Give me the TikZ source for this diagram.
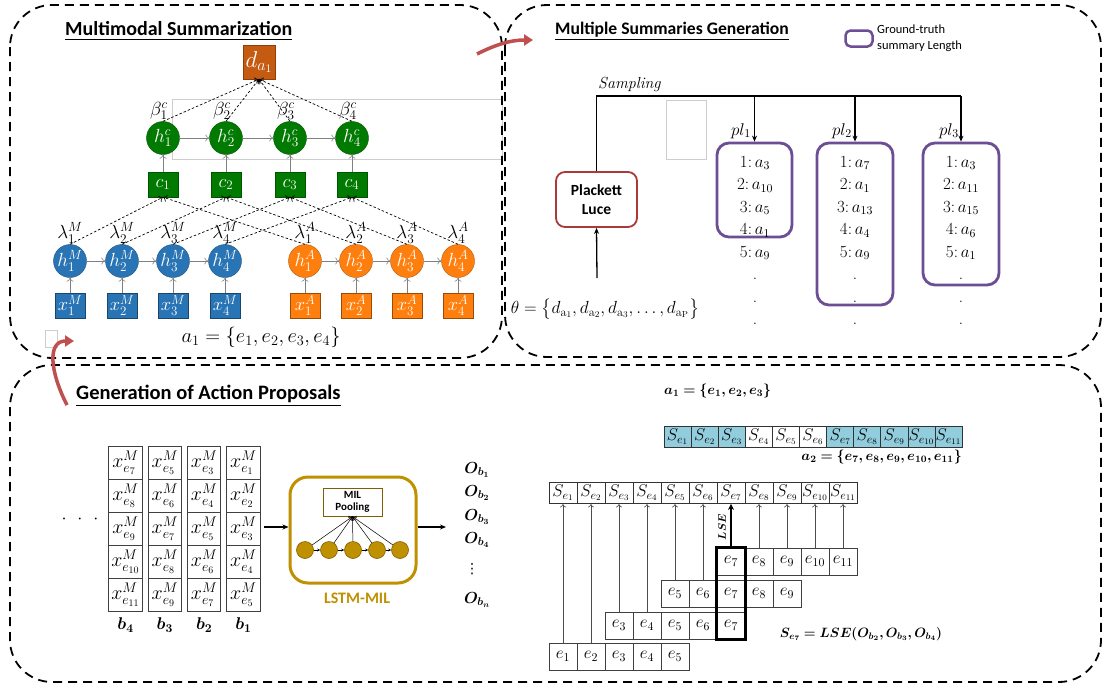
\RequirePackage{fix-cm}
\documentclass[tikz,border=0pt]{standalone}
\usepackage{amsmath}
\usepackage{bm}
\usepackage{fontspec}
\newfontfamily\carl{Carlito}
\newfontfamily\dejavu{DejaVu Sans}
\usetikzlibrary{arrows.meta,calc}
\definecolor{cblue}{RGB}{40,116,180}
\definecolor{corange}{RGB}{255,127,14}
\definecolor{cgreen}{RGB}{0,122,0}
\definecolor{cdorange}{RGB}{197,90,17}
\definecolor{cpurple}{RGB}{108,78,148}
\definecolor{cred}{RGB}{170,58,58}
\definecolor{cgold}{RGB}{191,144,0}
\definecolor{cdgold}{RGB}{127,96,0}
\definecolor{clblue}{RGB}{146,205,221}
\definecolor{carrow}{RGB}{192,80,77}
\definecolor{cstray}{RGB}{205,205,205}
\newcommand{\fsz}[2]{\fontsize{#1}{#2}\selectfont}
\begin{document}
\begin{tikzpicture}[x=1pt,y=-1pt,
  panel/.style={draw=black, line width=1.8pt, dash pattern=on 9pt off 6pt, rounded corners=42pt},
  title/.style={anchor=west, inner sep=0pt, font=\carl\bfseries\fsz{20}{24}},
  stray/.style={draw=cstray, line width=0.6pt},
  hnode/.style={circle, minimum size=33pt, inner sep=0pt, text=white, font=\fsz{19}{22}},
  sqnode/.style={rectangle, minimum width=30pt, minimum height=25pt, inner sep=0pt, text=white, font=\fsz{18.5}{22}},
  garr/.style={draw=gray, line width=0.6pt, -{To[length=4pt,width=7pt]}},
  darr/.style={draw=black, line width=0.7pt, dash pattern=on 2.5pt off 2pt, -{To[length=4pt,width=7pt]}},
  lab/.style={inner sep=0pt, font=\fsz{19}{22}},
  plbox/.style={draw=cpurple, line width=2.8pt, rounded corners=12pt, inner sep=0pt},
  listn/.style={anchor=north, align=center, inner sep=0pt, font=\fsz{17}{22.5}},
  blk/.style={line width=1.3pt, -{Stealth[length=6pt,width=5pt]}},
  xcell/.style={draw=black!75, line width=0.8pt, minimum width=33.5pt, minimum height=33pt, inner sep=0pt, font=\fsz{20}{24}},
  scell/.style={draw=black!80, line width=0.8pt, minimum height=21pt, inner sep=0pt, font=\fsz{17}{19}},
  ecell/.style={draw=black!75, line width=0.8pt, minimum width=28pt, minimum height=27pt, inner sep=0pt, font=\fsz{17}{20}},
  earr/.style={draw=black!70, line width=0.6pt, -{To[length=3.5pt,width=6pt]}},
  redarr/.style={draw=carrow, line width=3.5pt, -{Triangle[length=9pt,width=11pt]}}
]
\useasboundingbox (0,0) rectangle (1105,688);
\fill[white] (0,0) rectangle (1105,688);

% ---------------- stray boxes ----------------
\draw[stray] (172,99) rectangle (502,159);
\draw[stray] (666,100) rectangle (706,159);
\draw[stray] (45,330) rectangle (57,347);

% ---------------- panels ----------------
\draw[panel] (10,5) rectangle (502,358);
\draw[panel] (505,5) rectangle (1101,357);
\draw[panel] (10,365) rectangle (1101,682);

% ================= Panel 1 =================
\node[title] (t1) at (65,31) {\underline{Multimodal Summarization}};
\node[sqnode, fill=cdorange, draw=cdorange!70!black, minimum width=32pt, minimum height=34pt, font=\fsz{23}{26}] (d) at (259,62) {$d_{a_1}$};

\foreach \i/\x in {1/163,2/226,3/290,4/352} {
  \node[hnode, fill=cgreen, draw=cgreen!70!black] (hc\i) at (\x,138) {$h_{\i}^{c}$};
  \node[sqnode, fill=cgreen, draw=cgreen!70!black] (c\i) at (\x,184.5) {$c_{\i}$};
  \node[lab] (beta\i) at (\x-4,111) {$\beta_{\i}^{c}$};
  \draw[garr] (c\i) -- (hc\i);
  \draw[darr] (hc\i.north) -- (d.south);
}
\foreach \i/\j in {1/2,2/3,3/4} \draw[garr] (hc\i) -- (hc\j);

\foreach \i/\x in {1/70,2/122,3/173,4/225} {
  \node[hnode, fill=cblue, draw=cblue!70!black] (hm\i) at (\x,261) {$h_{\i}^{M}$};
  \node[sqnode, fill=cblue, draw=cblue!60!black] (xm\i) at (\x,305.5) {$x_{\i}^{M}$};
  \node[lab] (lm\i) at (\x,233) {$\lambda_{\i}^{M}$};
  \draw[garr] (xm\i) -- (hm\i);
  \draw[darr] (hm\i.north) -- (c\i.south);
}
\foreach \i/\x in {1/305,2/356,3/407,4/458} {
  \node[hnode, fill=corange, draw=corange!70!black] (ha\i) at (\x,261) {$h_{\i}^{A}$};
  \node[sqnode, fill=corange, draw=corange!60!black] (xa\i) at (\x,305.5) {$x_{\i}^{A}$};
  \node[lab] (la\i) at (\x,233) {$\lambda_{\i}^{A}$};
  \draw[garr] (xa\i) -- (ha\i);
  \draw[darr] (ha\i.north) -- (c\i.south);
}
\foreach \i/\j in {1/2,2/3,3/4} {
  \draw[garr] (hm\i) -- (hm\j);
  \draw[garr] (ha\i) -- (ha\j);
}
\node[lab, font=\fsz{20.5}{24}] (aone) at (261,337) {$a_1 = \{e_1, e_2, e_3, e_4\}$};

% ================= Panel 2 =================
\node[title, font=\carl\bfseries\fsz{17.6}{21}] (t2) at (555,31) {\underline{Multiple Summaries Generation}};
\node[draw=cpurple, line width=2.5pt, rounded corners=5pt, minimum width=27pt, minimum height=16pt, inner sep=0pt] (leg) at (859,38.5) {};
\node[anchor=west, align=left, font=\carl\fsz{12.5}{16.5}, inner sep=0pt] (legt) at (877,38) {Ground-truth\\summary Length};

\node[anchor=south west, inner sep=0pt, font=\fsz{16}{19}] (samp) at (598,92) {\textit{Sampling}};
\node[draw=cred, line width=1.8pt, rounded corners=9pt, minimum width=81pt, minimum height=55pt, align=center, font=\carl\bfseries\fsz{15.5}{19.5}] (pl) at (596.5,199.5) {Plackett\\Luce};

\node[plbox, minimum width=75pt, minimum height=94pt] (p1) at (754.5,190) {};
\node[plbox, minimum width=76pt, minimum height=162pt] (p2) at (855,224) {};
\node[plbox, minimum width=76pt, minimum height=142pt] (p3) at (961,214) {};

\coordinate (sline) at (597,96);
\draw[line width=1.3pt] (pl.north) -- (pl.north |- sline) -- (p3.north |- sline);
\foreach \k in {1,2,3} \draw[blk] (p\k.north |- sline) -- (p\k.north);

\node[lab, font=\fsz{17}{20}] (pll1) at (741,131) {$pl_1$};
\node[lab, font=\fsz{17}{20}] (pll2) at (842,131) {$pl_2$};
\node[lab, font=\fsz{17}{20}] (pll3) at (949,131) {$pl_3$};

\node[listn] (list1) at (755,156) {$1{:}\,a_3$\\$2{:}\,a_{10}$\\$3{:}\,a_5$\\$4{:}\,a_1$\\$5{:}\,a_9$\\.\\.\\.};
\node[listn] (list2) at (855,156) {$1{:}\,a_7$\\$2{:}\,a_1$\\$3{:}\,a_{13}$\\$4{:}\,a_4$\\$5{:}\,a_9$\\.\\.\\.};
\node[listn] (list3) at (961,156) {$1{:}\,a_3$\\$2{:}\,a_{11}$\\$3{:}\,a_{15}$\\$4{:}\,a_6$\\$5{:}\,a_1$\\.\\.\\.};

\node[lab, font=\fsz{17.5}{20}] (theta) at (605,309) {$\theta = \bigl\{d_{\mathrm{a}_1}, d_{\mathrm{a}_2}, d_{\mathrm{a}_3}, \dots, d_{\mathrm{a}_\mathrm{P}}\bigr\}$};
\coordinate (thtop) at (597,278);
\draw[blk] (thtop) -- (pl.south);

% ================= Panel 3 =================
\node[title, font=\carl\bfseries\fsz{20.5}{24}] (t3) at (76,396) {\underline{Generation of Action Proposals}};

\foreach \k in {0,...,3} {
  \foreach \r in {0,...,4} {
    \pgfmathtruncatemacro{\e}{7-2*\k+\r}
    \node[xcell] (g\k\r) at (125.5+39.3*\k, 462.5+33*\r) {$x_{e_{\e}}^{M}$};
  }
  \pgfmathtruncatemacro{\b}{4-\k}
  \node[lab, font=\fsz{17}{20}] (bl\k) at (125.5+39.3*\k, 625) {$\bm{b_{\b}}$};
}
\node[lab, font=\fsz{18}{20}] (dots) at (80,519) {$\cdot\hspace{7pt}\cdot\hspace{7pt}\cdot$};

\coordinate (gin) at (264,527);
\node[draw=cgold, line width=3pt, rounded corners=18pt, minimum width=126pt, minimum height=106pt, inner sep=0pt] (lstm) at (353,530) {};
\draw[blk] (gin) -- (gin -| lstm.west);
\node[draw=cdgold, line width=1pt, fill=white, minimum width=59pt, minimum height=28pt, inner sep=0pt, align=center, font=\carl\bfseries\fsz{11}{12}] (pool) at (352.5,502) {MIL\\Pooling};
\foreach \i/\x in {1/305,2/329,3/353,4/377,5/400} {
  \node[circle, fill=cgold, draw=cdgold, line width=0.6pt, minimum size=17pt, inner sep=0pt] (m\i) at (\x,550) {};
  \draw[line width=0.5pt, -{To[length=3.5pt,width=6pt]}] (m\i) -- (pool.south);
}
\foreach \i/\j in {1/2,2/3,3/4,4/5} \draw[line width=0.5pt, -{Stealth[length=3pt,width=3pt]}] (m\i) -- (m\j);
\node[font=\carl\bfseries\fsz{16}{18}, text=cgold, inner sep=0pt] (lstml) at (357,598) {LSTM-MIL};
\coordinate (oout) at (446,527);
\draw[blk] (oout -| lstm.east) -- (oout);

\node[lab, font=\fsz{16}{18}] (o1) at (477,470) {$\bm{O_{b_1}}$};
\node[lab, font=\fsz{16}{18}] (o2) at (477,493) {$\bm{O_{b_2}}$};
\node[lab, font=\fsz{16}{18}] (o3) at (477,517) {$\bm{O_{b_3}}$};
\node[lab, font=\fsz{16}{18}] (o4) at (477,540) {$\bm{O_{b_4}}$};
\node[lab, font=\dejavu\fsz{14}{16}] (ovd) at (472,569) {⋮};
\node[lab, font=\fsz{16}{18}] (on) at (477,600) {$\bm{O_{b_n}}$};

% right part
\node[anchor=west, inner sep=0pt, font=\fsz{14}{17}] (a1b) at (664,391) {$\bm{a_1 = \{e_1, e_2, e_3\}}$};
\foreach \i/\c in {1/clblue,2/clblue,3/clblue,4/white,5/white,6/white,7/clblue,8/clblue,9/clblue,10/clblue,11/clblue}
  \node[scell, fill=\c, minimum width=27.1pt] (u\i) at (664+27.1*\i-13.55, 437) {$S_{e_{\i}}$};
\node[anchor=east, inner sep=0pt, font=\fsz{14}{17}] (a2b) at (962,457) {$\bm{a_2 = \{e_7, e_8, e_9, e_{10}, e_{11}\}}$};

\foreach \i in {1,...,11}
  \node[scell, fill=white, minimum width=28pt] (s\i) at (549+28*\i-14, 493) {$S_{e_{\i}}$};

\foreach \i in {7,...,11} \node[ecell] (A\i) at (549+28*\i-14, 561.5) {$e_{\i}$};
\foreach \i in {5,...,9} \node[ecell] (B\i) at (549+28*\i-14, 593.5) {$e_{\i}$};
\foreach \i in {3,...,7} \node[ecell] (C\i) at (549+28*\i-14, 625.5) {$e_{\i}$};
\foreach \i in {1,...,5} \node[ecell] (D\i) at (549+28*\i-14, 656.5) {$e_{\i}$};

\draw[earr] (D1) -- (s1);
\draw[earr] (D2) -- (s2);
\draw[earr] (C3) -- (s3);
\draw[earr] (C4) -- (s4);
\draw[earr] (B5) -- (s5);
\draw[earr] (B6) -- (s6);
\foreach \i in {8,...,11} \draw[earr] (A\i) -- (s\i);

\draw[line width=2.6pt] (A7.north west) rectangle (C7.south east);
\draw[line width=2pt, -{Stealth[length=6pt,width=6pt]}] (A7.north) -- (s7.south);
\node[rotate=90, font=\fsz{11}{12}, inner sep=0pt] (lse) at (722,527) {$\bm{LSE}$};

\node[lab, font=\fsz{13.5}{16}] (seq) at (861,634) {$\bm{S_{e_7} = LSE(O_{b_2}, O_{b_3}, O_{b_4})}$};

% ---------------- red arrows ----------------
\coordinate (ra1) at (477,54);
\coordinate (ra2) at (533,40);
\draw[redarr] (ra1) .. controls (495,45) and (510,40) .. (ra2);
\coordinate (rb1) at (67,405);
\coordinate (rb2) at (74,341);
\draw[redarr] (rb1) .. controls (50,372) and (47,341) .. (rb2);
\end{tikzpicture}
\end{document}
